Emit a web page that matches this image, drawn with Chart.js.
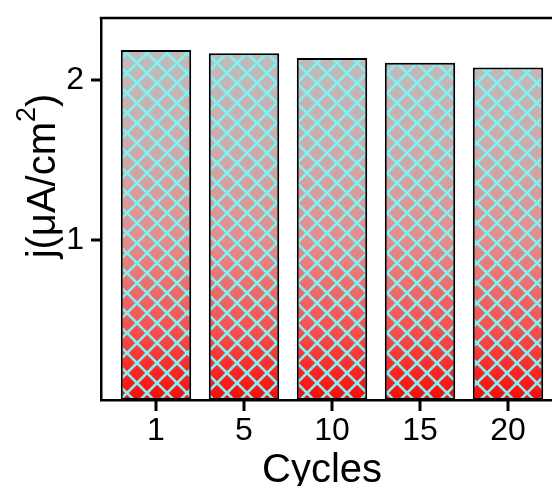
<!DOCTYPE html>
<html>
<head>
<meta charset="utf-8">
<script src="https://cdn.jsdelivr.net/npm/chart.js@4"></script>
<style>
  html, body { margin: 0; padding: 0; background: #fff; overflow: hidden; }
  #wrap { width: 552px; height: 486px; overflow: hidden; position: relative; }
  #box { width: 600px; height: 486px; position: absolute; left: 0; top: 0; }
</style>
</head>
<body>
<div id="wrap"><div id="box"><canvas id="chart"></canvas></div></div>
<script>
// ── Data ──
const cycles = ['1', '5', '10', '15', '20'];
const currentDensity = [2.19, 2.17, 2.14, 2.11, 2.08];
const yTicks = [1, 2];

const FONT = "Arial, 'Liberation Sans', sans-serif";

// ── Fill: vertical gradient gray -> red with a cyan crosshatch on top ──
let fillCache = null;
function barFill(ctx) {
    const chart = ctx.chart;
    const area = chart.chartArea;
    if (!area) return '#d08080';
    const key = chart.width + 'x' + chart.height + ':' + area.top + ':' + area.bottom;
    if (fillCache && fillCache.key === key) return fillCache.pattern;

    const off = document.createElement('canvas');
    off.width = chart.width; off.height = chart.height;
    const c = off.getContext('2d');
    const g = c.createLinearGradient(0, area.top + 30, 0, area.bottom);
    g.addColorStop(0, '#bfbcbc');
    g.addColorStop(0.3, '#cdaaaa');
    g.addColorStop(0.55, '#e48c8c');
    g.addColorStop(0.8, '#f65050');
    g.addColorStop(1, '#ff0808');
    c.fillStyle = g;
    c.fillRect(0, 0, off.width, off.height);

    c.strokeStyle = '#80f2f2';
    c.lineWidth = 2.6;
    const step = 20, H = off.height, W = off.width;
    c.beginPath();
    for (let x = -H; x < W + H; x += step) {
        c.moveTo(x, 0); c.lineTo(x + H, H);
        c.moveTo(x + H, 0); c.lineTo(x, H);
    }
    c.stroke();

    const pattern = chart.ctx.createPattern(off, 'no-repeat');
    fillCache = { key, pattern };
    return pattern;
}

// ── Frame top line, tick marks, axis titles ──
const decor = {
    id: 'decor',
    afterDraw(chart) {
        const { ctx, chartArea: a, scales } = chart;
        ctx.save();
        ctx.fillStyle = '#000';
        ctx.fillRect(a.left - 1.25, a.top - 1.25, a.right - a.left + 2, 2.5);

        // tick marks, outward
        cycles.forEach((_, i) => {
            const px = Math.round(scales.x.getPixelForValue(i));
            ctx.fillRect(px - 1.5, a.bottom, 3, 11);
        });
        yTicks.forEach(v => {
            const py = Math.round(scales.y.getPixelForValue(v));
            ctx.fillRect(a.left - 10, py - 1.5, 10, 3);
        });

        ctx.textBaseline = 'alphabetic';
        // x title
        ctx.font = '40px ' + FONT;
        ctx.textAlign = 'center';
        ctx.fillText('Cycles', 322, 482);

        // y title, rotated, with superscript 2
        ctx.translate(55, 176);
        ctx.rotate(-Math.PI / 2);
        ctx.textAlign = 'left';
        const big = '40px ' + FONT, small = '27px ' + FONT;
        ctx.font = big;
        const w1 = ctx.measureText('j(\u03bcA/cm').width;
        const w3 = ctx.measureText(')').width;
        ctx.font = small;
        const w2 = ctx.measureText('2').width;
        let x = -(w1 + w2 + w3) / 2;
        ctx.font = big;
        ctx.fillText('j(\u03bcA/cm', x, 0);
        x += w1;
        ctx.font = small;
        ctx.fillText('2', x, -20);
        x += w2;
        ctx.font = big;
        ctx.fillText(')', x, 0);
        ctx.restore();
    }
};

new Chart(document.getElementById('chart'), {
    type: 'bar',
    data: {
        datasets: [{
            data: currentDensity.map((v, i) => ({ x: i, y: v })),
            backgroundColor: barFill,
            borderColor: '#000',
            borderWidth: 2,
            borderSkipped: false,
            barPercentage: 0.8,
            categoryPercentage: 1.0
        }]
    },
    options: {
        responsive: true,
        maintainAspectRatio: false,
        animation: false,
        layout: { padding: { top: 18, right: 37, left: 0, bottom: 0 } },
        plugins: { legend: { display: false }, tooltip: { enabled: false } },
        scales: {
            x: {
                type: 'linear',
                offset: false,
                min: -0.625,
                max: 4.625,
                afterBuildTicks: s => { s.ticks = cycles.map((_, i) => ({ value: i })); },
                afterFit: s => { s.height = 86; s.paddingLeft = 0; s.paddingRight = 0; },
                ticks: {
                    callback: v => cycles[v],
                    color: '#000',
                    font: { family: FONT, size: 32 },
                    padding: 12,
                    maxRotation: 0,
                    autoSkip: false
                },
                grid: { display: false, offset: false, drawTicks: false },
                border: { display: true, color: '#000', width: 2.5 }
            },
            y: {
                min: 0,
                max: 2.39,
                afterBuildTicks: s => { s.ticks = yTicks.map(v => ({ value: v })); },
                afterFit: s => { s.width = 101; s.paddingTop = 0; s.paddingBottom = 0; },
                ticks: {
                    color: '#000',
                    font: { family: FONT, size: 32 },
                    padding: 17
                },
                grid: { display: false, drawTicks: false },
                border: { display: true, color: '#000', width: 2.5 }
            }
        }
    },
    plugins: [decor]
});
</script>
</body>
</html>
